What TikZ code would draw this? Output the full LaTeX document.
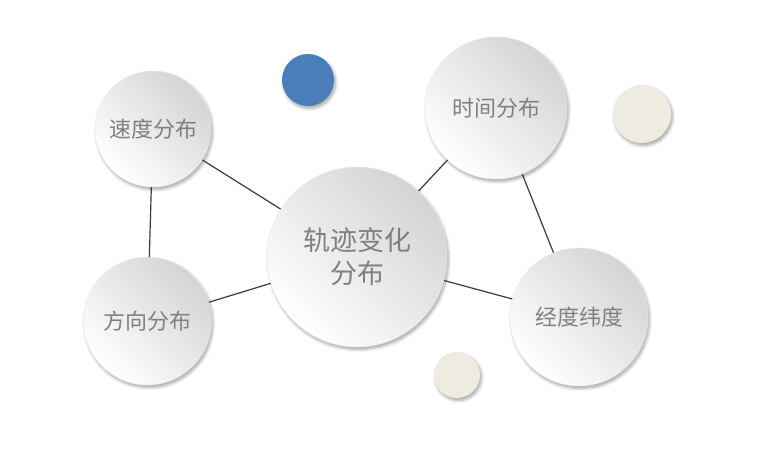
\documentclass[tikz,border=0pt]{standalone}
\usepackage{fontspec}
\setmainfont{Noto Sans CJK SC}
\usetikzlibrary{shadows.blur}
\definecolor{txt}{HTML}{808080}
\definecolor{lnk}{HTML}{3A3A3A}
\definecolor{bluec}{HTML}{4A7EBB}
\definecolor{tanc}{HTML}{EEECE1}
\definecolor{ballc}{HTML}{D4D4D4}
\tikzset{
  ball/.style={circle, inner sep=0pt, minimum size=#1, top color=ballc, bottom color=white,
    shading angle=-45, draw=black!8, line width=0.4pt, text=txt,
    blur shadow={shadow xshift=1.5pt, shadow yshift=-2.5pt, shadow blur steps=6, shadow blur radius=3pt, shadow opacity=35},
    font=\fontsize{22}{26}\selectfont},
  dot/.style={circle, inner sep=0pt, minimum size=#1,
    blur shadow={shadow xshift=1.5pt, shadow yshift=-2.5pt, shadow blur steps=6, shadow blur radius=3pt, shadow opacity=35}},
  link/.style={draw=lnk, line width=1.2pt}
}
\begin{document}
\begin{tikzpicture}[x=1pt,y=1pt]
\useasboundingbox (0,0) rectangle (762,452);
\node[ball=180pt, font=\fontsize{27}{33}\selectfont, align=center] (c) at (357,452-257) {轨迹变化\\分布};
\node[ball=116pt] (sd) at (153,452-129) {速度分布};
\node[ball=128pt] (fx) at (147.5,452-321) {方向分布};
\node[ball=142pt] (sj) at (496,452-108) {时间分布};
\node[ball=138pt] (jd) at (579,452-317) {经度纬度};
\node[dot=52pt, fill=bluec] (b1) at (308,452-80) {};
\node[dot=58pt, fill=tanc] (t1) at (642,452-114) {};
\node[dot=46pt, fill=tanc] (t2) at (457,452-375) {};
\draw[link] (sd) -- (c);
\draw[link] (sd) -- (fx);
\draw[link] (fx) -- (c);
\draw[link] (sj) -- (c);
\draw[link] (sj) -- (jd);
\draw[link] (c) -- (jd);
\end{tikzpicture}
\end{document}
